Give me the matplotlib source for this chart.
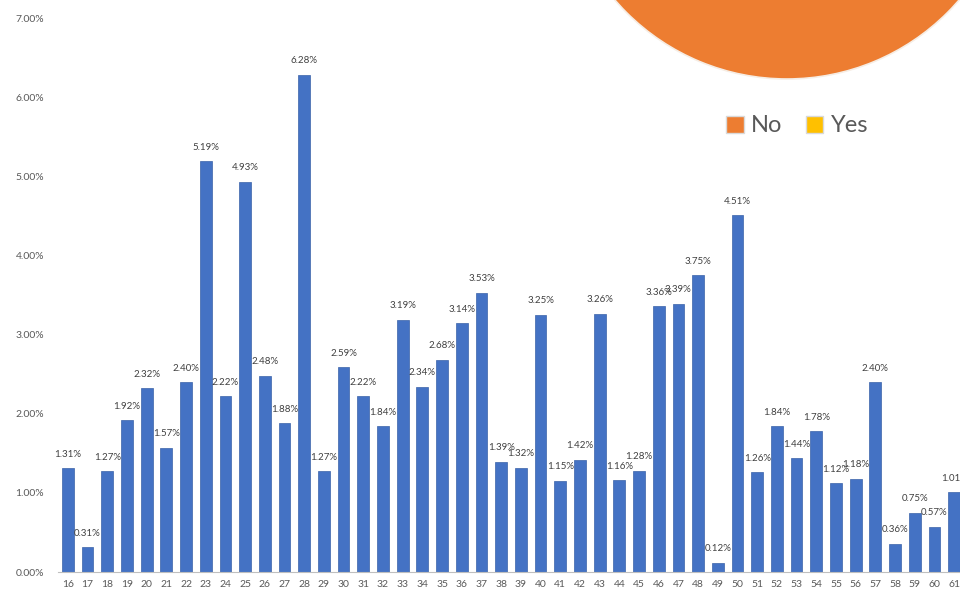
import matplotlib.pyplot as plt
from matplotlib.patches import Patch

# Dados
idades = list(range(16, 62))
percentuais = [1.31, 0.31, 1.27, 1.92, 2.32, 1.57, 2.40, 5.19, 2.22, 4.93,
               2.48, 1.88, 6.28, 1.27, 2.59, 2.22, 1.84, 3.19, 2.34, 2.68,
               3.14, 3.53, 1.39, 1.32, 3.25, 1.15, 1.42, 3.26, 1.16, 1.28,
               3.36, 3.39, 3.75, 0.12, 4.51, 1.26, 1.84, 1.44, 1.78, 1.12,
               1.18, 2.40, 0.36, 0.75, 0.57, 1.01]
y_ticks = [0, 1, 2, 3, 4, 5, 6, 7]

pie_labels = ['No', 'Yes']
pie_values = [100, 0]
pie_colors = ['#ED7D31', '#FFC000']

plt.rcParams['font.family'] = ['Lato', 'DejaVu Sans']

fig = plt.figure(figsize=(9.6, 5.91), dpi=100)

# Grafico de barras (passa um pouco da borda direita, como no original)
ax = fig.add_axes([58 / 960, 19 / 591, 906 / 960, 554 / 591])
pos = list(range(len(idades)))
ax.bar(pos, percentuais, width=0.6, color='#4472C4', edgecolor='#3A62A8', linewidth=0.5)
for x, v in zip(pos, percentuais):
    ax.text(x, v + 0.12, f'{v:.2f}%', ha='center', va='bottom', fontsize=7, color='#404040')

ax.set_xlim(-0.5, len(idades) - 0.5)
ax.set_ylim(0, 7)
ax.set_xticks(pos)
ax.set_xticklabels([str(i) for i in idades], fontsize=7.5, color='#595959')
ax.set_yticks(y_ticks)
ax.set_yticklabels([f'{t:.2f}%' for t in y_ticks], fontsize=7.5, color='#595959')
ax.tick_params(axis='both', length=0)
ax.tick_params(axis='x', pad=6)
ax.tick_params(axis='y', pad=10)
for s in ['top', 'right', 'left']:
    ax.spines[s].set_visible(False)
ax.spines['bottom'].set_color('#BFBFBF')

# Pizza cortada no canto superior direito
ax2 = fig.add_axes([(787 - 227) / 960, (739 - 227) / 591, 454 / 960, 454 / 591])
ax2.pie(pie_values, colors=pie_colors, radius=1, counterclock=False, startangle=90,
        wedgeprops=dict(edgecolor='#F6EDE4', linewidth=1.2))
ax2.set_xlim(-1, 1)
ax2.set_ylim(-1, 1)

handles = [Patch(facecolor=c, edgecolor='#D9D9D9', linewidth=1) for c in pie_colors]
fig.legend(handles, pie_labels, loc='center', bbox_to_anchor=(797 / 960, 1 - 126 / 591),
           ncol=2, frameon=False, fontsize=17, labelcolor='#595959',
           handlelength=0.75, handleheight=0.75, handletextpad=0.3, columnspacing=1.0)

plt.savefig('out.png', dpi=100)
